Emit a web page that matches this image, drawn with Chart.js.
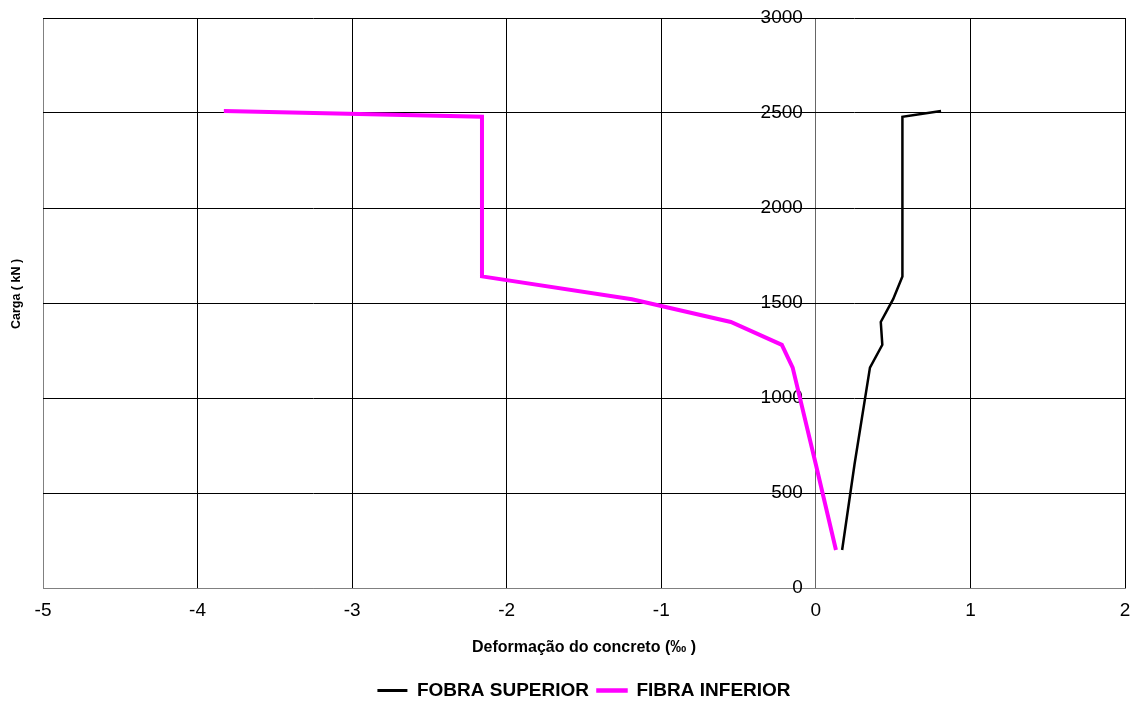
<!DOCTYPE html>
<html>
<head>
<meta charset="utf-8">
<title>Carga x Deformação</title>
<script src="https://cdn.jsdelivr.net/npm/chart.js@4.4.1/dist/chart.umd.min.js"></script>
<style>
  body { margin: 0; background: #fff; }
  #wrap { width: 1145px; height: 703px; }
</style>
</head>
<body>
<div id="wrap"><canvas id="chart" width="1145" height="703"></canvas></div>
<script>
// Load steps (kN), shared by both fibres
const loads = [200, 650, 1160, 1280, 1400, 1520, 1640, 2480, 2510];
// Strain (‰)
const strainSuperior = [0.17, 0.25, 0.35, 0.43, 0.42, 0.50, 0.56, 0.56, 0.81];
const strainInferior = [0.13, 0.00, -0.15, -0.22, -0.55, -1.19, -2.16, -2.16, -3.83];

const seriesNames = ["FOBRA SUPERIOR", "FIBRA INFERIOR"];
const seriesColors = ["#000000", "#ff00ff"];

const FONT = "'Liberation Sans', Arial, sans-serif";

function toPoints(xs, ys) {
  return xs.map((x, i) => ({ x: x, y: ys[i] }));
}

// Rotated y-axis title on the far left (the y axis itself sits at x = 0)
const yTitlePlugin = {
  id: "yTitle",
  afterDraw(chart) {
    const ctx = chart.ctx;
    ctx.save();
    ctx.translate(17, 294);
    ctx.rotate(-Math.PI / 2);
    ctx.font = "bold 12.5px " + FONT;
    ctx.fillStyle = "#000";
    ctx.textAlign = "center";
    ctx.textBaseline = "middle";
    ctx.fillText("Carga ( kN )", 0, 0);
    ctx.restore();
  }
};

new Chart(document.getElementById("chart"), {
  type: "scatter",
  data: {
    datasets: [
      {
        label: seriesNames[0],
        data: toPoints(strainSuperior, loads),
        showLine: true,
        borderColor: seriesColors[0],
        backgroundColor: seriesColors[0],
        borderWidth: 2.5,
        pointRadius: 0,
        tension: 0
      },
      {
        label: seriesNames[1],
        data: toPoints(strainInferior, loads),
        showLine: true,
        borderColor: seriesColors[1],
        backgroundColor: seriesColors[1],
        borderWidth: 4,
        pointRadius: 0,
        tension: 0
      }
    ]
  },
  options: {
    responsive: false,
    animation: false,
    layout: { padding: { left: 43, right: 20, top: 18, bottom: -7 } },
    plugins: {
      tooltip: { enabled: false },
      legend: {
        position: "bottom",
        labels: {
          color: "#000",
          font: { family: FONT, size: 19, weight: "bold" },
          boxWidth: 30,
          boxHeight: 3,
          padding: 8,
          generateLabels(chart) {
            const items = Chart.defaults.plugins.legend.labels.generateLabels(chart);
            // thin bar for the black series, a slightly heavier one for magenta
            items.forEach((it, i) => {
              it.lineWidth = i === 1 ? 1.5 : 0;
              it.strokeStyle = seriesColors[i];
            });
            return items;
          }
        }
      }
    },
    scales: {
      x: {
        type: "linear",
        min: -5,
        max: 2,
        ticks: {
          stepSize: 1,
          color: "#000",
          padding: 11,
          font: { family: FONT, size: 19 }
        },
        grid: {
          drawTicks: false,
          color: ctx => {
            if (!ctx.tick) return "#000";
            if (ctx.tick.value === -5) return "#808080";
            if (ctx.tick.value === 0) return "#666";
            return "#000";
          },
          lineWidth: 1
        },
        border: { display: true, color: "#808080" },
        title: {
          display: true,
          text: "Deformação do concreto (‰ )",
          color: "#000",
          font: { family: FONT, size: 16, weight: "bold" },
          padding: { top: 5, bottom: 16 }
        }
      },
      y: {
        type: "linear",
        // labels sit a little left of the x = 0 axis line (drawn by the x grid)
        position: { x: -0.084 },
        min: 0,
        max: 3000,
        ticks: {
          stepSize: 500,
          color: "#000",
          font: { family: FONT, size: 19 },
          callback: v => String(v)
        },
        grid: {
          color: ctx => (ctx.tick && ctx.tick.value === 0 ? "#808080" : "#000"),
          lineWidth: 1
        },
        border: { display: false }
      }
    }
  },
  plugins: [yTitlePlugin]
});
</script>
</body>
</html>
